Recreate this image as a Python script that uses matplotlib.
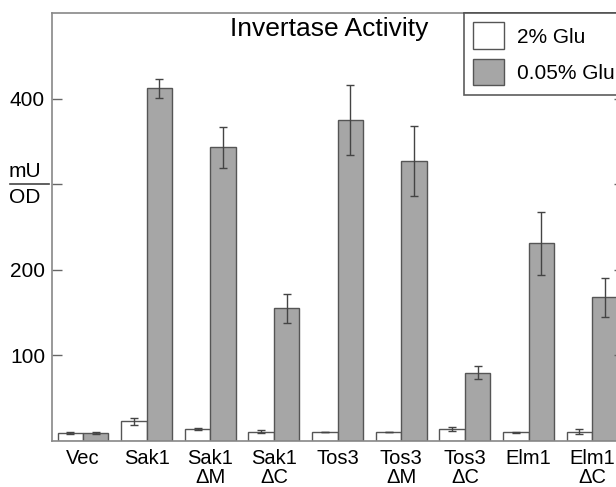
import matplotlib
matplotlib.use("Agg")
import matplotlib.pyplot as plt
import matplotlib.transforms as mtransforms
import numpy as np

plt.rcParams['font.family'] = ['Liberation Sans', 'DejaVu Sans']

# データ
categories = ["Vec", "Sak1", "Sak1\nΔM", "Sak1\nΔC", "Tos3", "Tos3\nΔM", "Tos3\nΔC", "Elm1", "Elm1\nΔC"]
glu_high = [9, 23, 14, 11, 11, 11, 14, 10, 11]          # 2% Glu
glu_high_err = [1, 4, 1, 1.5, 0, 0, 2.5, 1, 3]
glu_low = [9, 412, 343, 155, 375, 327, 80, 231, 168]    # 0.05% Glu
glu_low_err = [1, 11, 24, 17, 41, 41, 7.5, 37, 23]
y_ticks = [100, 200, 300, 400]
y_ticklabels = ["100", "200", "", "400"]

fig = plt.figure(figsize=(6.16, 4.87), dpi=100)
ax = fig.add_axes([52 / 616, 1 - 441 / 487, (624 - 52) / 616, (441 - 13) / 487])

x = np.arange(len(categories))
w = 0.4
edge = "#555555"
err_kw = dict(ecolor="#444444", elinewidth=1, capsize=3, capthick=1)
ax.bar(x - w / 2, glu_high, w, yerr=glu_high_err, color="white", edgecolor=edge,
       linewidth=1, label="2% Glu", error_kw=err_kw)
ax.bar(x + w / 2, glu_low, w, yerr=glu_low_err, color="#a6a6a6", edgecolor=edge,
       linewidth=1, label="0.05% Glu", error_kw=err_kw)

ax.set_xlim(-0.487, 8.5)
ax.set_ylim(0, 500)
ax.set_xticks(x)
ax.set_xticklabels(categories, fontsize=14.5, linespacing=1.0)
ax.set_yticks(y_ticks)
ax.set_yticklabels(y_ticklabels, fontsize=15)
ax.tick_params(axis="x", length=0, pad=6)
ax.tick_params(axis="y", direction="in", length=7, width=1, color="#666666",
               right=True, pad=5)
for s in ax.spines.values():
    s.set_color("#888888")
    s.set_linewidth(1.2)

# 縦軸ラベル mU / OD(300 の位置)
trans = mtransforms.blended_transform_factory(ax.transAxes, ax.transData)
ax.text(-0.048, 304, "mU", transform=trans, ha="center", va="bottom", fontsize=15)
ax.text(-0.048, 296, "OD", transform=trans, ha="center", va="top", fontsize=15)
ax.plot([-0.073, -0.005], [300, 300], transform=trans, color="#444444", lw=1.2,
        clip_on=False)

ax.text(0.484, 0.99, "Invertase Activity", transform=ax.transAxes, ha="center",
        va="top", fontsize=19)

leg = ax.legend(loc="upper right", bbox_to_anchor=(1.0, 1.0), borderaxespad=0,
                fontsize=15, frameon=True, fancybox=False, handlelength=1.5,
                handleheight=1.6, handletextpad=0.6, borderpad=0.45,
                labelspacing=0.45)
leg.get_frame().set_edgecolor("#333333")
leg.get_frame().set_linewidth(1.2)

fig.savefig("out.png", dpi=100)
